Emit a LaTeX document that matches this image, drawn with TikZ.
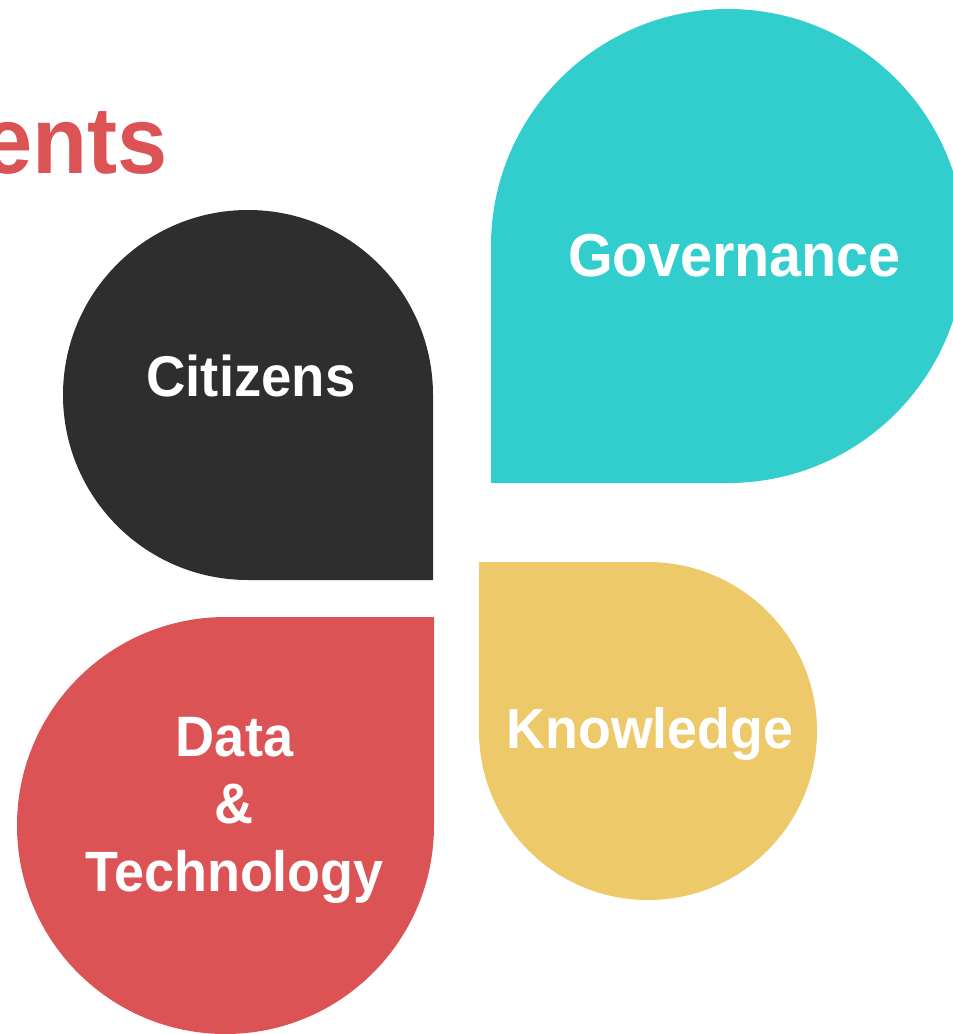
\documentclass[tikz,border=0pt]{standalone}
\usepackage{fontspec}
\setmainfont{Liberation Sans}[BoldFont={Liberation Sans Bold},FakeStretch=0.95]
\definecolor{teal1}{HTML}{32CDCD}
\definecolor{dark1}{HTML}{2E2E2E}
\definecolor{red1}{HTML}{DC5356}
\definecolor{yellow1}{HTML}{EEC96A}
\tikzset{
  lbl/.style={text=white,font=\bfseries,align=center,inner sep=0pt},
}
\newcommand{\fs}[1]{\fontsize{#1}{#1}\selectfont}
\begin{document}
\begin{tikzpicture}[x=1pt,y=-1pt]
\useasboundingbox (0,0) rectangle (953,1034);
\clip (0,0) rectangle (953,1034);
% Governance: corner bottom-left
\fill[teal1] (728,246) circle[radius=237] (491,483) rectangle (728,246);
% Citizens: corner bottom-right
\fill[dark1] (248,395) circle[radius=185] (248,580) rectangle (433,395);
% Data: corner top-right
\fill[red1] (225.5,825.5) circle[radius=208.5] (434,617) rectangle (225.5,825.5);
% Knowledge: corner top-left
\fill[yellow1] (648,731) circle[radius=169] (648,562) rectangle (479,731);
\node[lbl,text=red1,anchor=base east] (title) at (168,173) {\fs{95}ents};
\node[lbl,anchor=base] (gov) at (734.5,276) {\fs{60.6}Governance};
\node[lbl,anchor=base] (cit) at (251,396) {\fs{57.4}Citizens};
\node[lbl,anchor=base] (dt1) at (234.5,756) {\fs{57}Data};
\node[lbl,anchor=base] (dt2) at (234.5,823) {\fs{57}\&};
\node[lbl,anchor=base] (dt3) at (234.5,891) {\fs{56.8}Technology};
\node[lbl,anchor=base] (kno) at (650,748) {\fs{56.5}Knowledge};
\end{tikzpicture}
\end{document}
